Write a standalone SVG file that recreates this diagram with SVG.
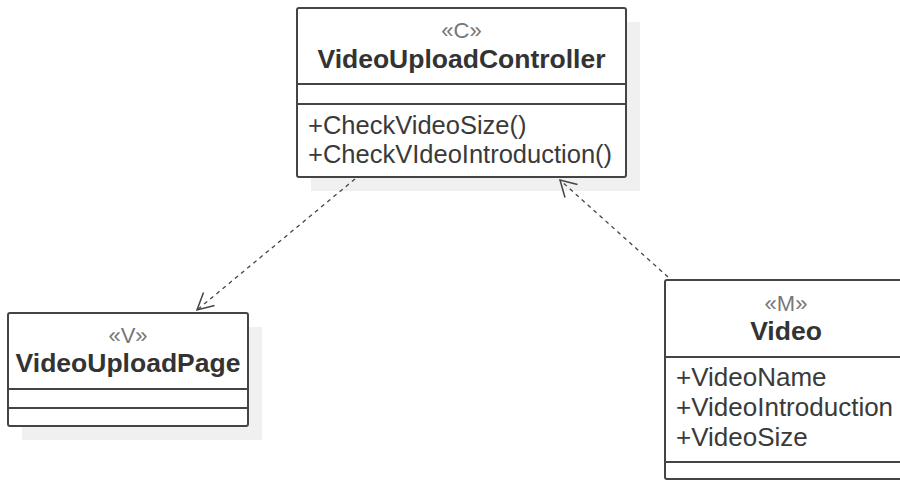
<svg xmlns="http://www.w3.org/2000/svg" width="900" height="481" viewBox="0 0 900 481">
<style>
.shadow{fill:#f0f0f0;stroke:none}
.box{fill:#ffffff;stroke:#444444;stroke-width:2}
.div{stroke:#444444;stroke-width:2}
.st{font-family:"Liberation Sans",Arial,sans-serif;font-size:22px;fill:#777777;text-anchor:middle}
.nm{font-family:"Liberation Sans",Arial,sans-serif;font-size:26.5px;font-weight:bold;fill:#333333;text-anchor:middle}
.mb{font-family:"Liberation Sans",Arial,sans-serif;font-size:26px;fill:#3a3a3a}
.op{font-size:25.5px}
.dep{fill:none;stroke:#444444;stroke-width:1.3;stroke-dasharray:4 4}
.head{fill:none;stroke:#444444;stroke-width:1.5}
</style>
<g id="VideoUploadController">
<rect class="shadow" x="311" y="22" width="329" height="169"/>
<rect class="box" x="297" y="8" width="329" height="169" rx="2"/>
<line class="div" x1="297" y1="84" x2="626" y2="84"/>
<line class="div" x1="297" y1="104" x2="626" y2="104"/>
<text class="st" x="461.5" y="38">«C»</text>
<text class="nm" x="461.5" y="68">VideoUploadController</text>
<text class="mb op" x="308" y="134">+CheckVideoSize()</text>
<text class="mb op" x="308" y="162.5">+CheckVIdeoIntroduction()</text>
</g>
<g id="VideoUploadPage">
<rect class="shadow" x="22" y="327" width="240" height="113"/>
<rect class="box" x="8" y="313" width="240" height="113" rx="2"/>
<line class="div" x1="8" y1="389" x2="248" y2="389"/>
<line class="div" x1="8" y1="408" x2="248" y2="408"/>
<text class="st" x="128" y="343">«V»</text>
<text class="nm" x="128" y="372">VideoUploadPage</text>
</g>
<g id="Video">
<rect class="box" x="665" y="280" width="242" height="199" rx="2"/>
<line class="div" x1="665" y1="357" x2="907" y2="357"/>
<line class="div" x1="665" y1="462" x2="907" y2="462"/>
<text class="st" x="786" y="311">«M»</text>
<text class="nm" x="786" y="340">Video</text>
<text class="mb" x="676" y="385.5">+VideoName</text>
<text class="mb" x="676" y="415.5">+VideoIntroduction</text>
<text class="mb" x="676" y="445.5">+VideoSize</text>
</g>
<g id="connectors">
<line class="dep" x1="355" y1="179" x2="197" y2="310"/>
<polyline class="head" points="203.5,292.5 197,310 214.5,305.5"/>
<line class="dep" x1="668" y1="277" x2="560" y2="180"/>
<polyline class="head" points="565,197.5 560,180 577.5,184.5"/>
</g>
</svg>
